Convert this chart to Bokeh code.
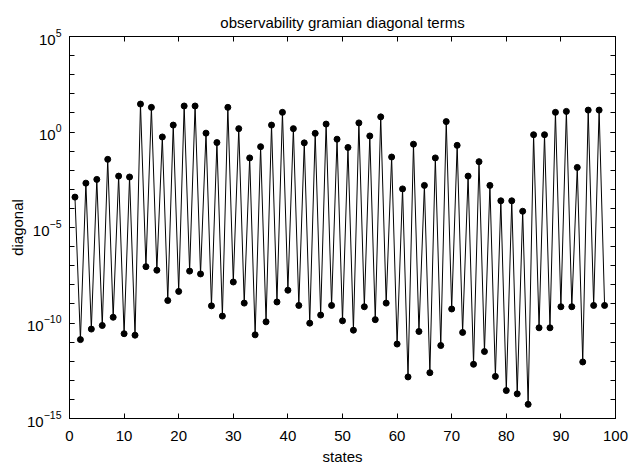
from bokeh.plotting import figure
from bokeh.models import FixedTicker, LinearAxis, LogAxis, Range1d, CustomJSTickFormatter
from bokeh.embed import file_html
from bokeh.resources import INLINE

title_text = "observability gramian diagonal terms"
x_label = "states"
y_label = "diagonal"

states = list(range(1, 99))
diagonal = [
    3.9e-4, 1.35e-11, 2.1e-3, 4.8e-11, 3.3e-3, 7.4e-11, 3.7e-2, 2.0e-10, 4.9e-3, 2.75e-11,
    4.4e-3, 2.3e-11, 29, 8.9e-8, 19.5, 5.8e-8, 0.55, 1.5e-9, 2.3, 4.5e-9,
    23, 5.2e-8, 23, 3.7e-8, 0.87, 7.9e-10, 0.28, 2.3e-10, 19.5, 1.4e-8,
    1.5, 1.1e-9, 4.4e-2, 2.4e-11, 0.17, 1.15e-10, 2.3, 1.26e-9, 10.7, 5.2e-9,
    1.5, 8.3e-10, 0.27, 9.8e-11, 0.85, 2.6e-10, 2.6, 8.3e-10, 0.42, 1.3e-10,
    0.155, 4.2e-11, 3.0, 7.1e-10, 0.62, 1.5e-10, 6.2, 1.1e-9, 4.9e-2, 7.9e-12,
    1.05e-3, 1.5e-13, 0.23, 3.6e-11, 1.6e-3, 2.5e-13, 4.4e-2, 6.6e-12, 3.5, 5.4e-10,
    0.2, 3.2e-11, 4.9e-3, 6.9e-13, 2.8e-2, 3.2e-12, 1.6e-3, 1.6e-13, 2.5e-4, 2.9e-14,
    2.5e-4, 1.95e-14, 7.1e-5, 5.5e-15, 0.72, 5.6e-11, 0.72, 5.6e-11, 10.7, 7.1e-10,
    12, 7.1e-10, 1.4e-2, 9.1e-13, 14, 8.3e-10, 14, 8.3e-10,
]

x_ticks = [0, 10, 20, 30, 40, 50, 60, 70, 80, 90, 100]
y_major = [1e-15, 1e-10, 1e-5, 1e0, 1e5]
y_minor = [10.0 ** k for k in range(-15, 6)]

FONT = "Liberation Sans"
FS = "15px"

p = figure(width=632, height=467, y_axis_type="log",
           x_range=Range1d(0, 100), y_range=Range1d(1e-15, 1e5),
           output_backend="svg", toolbar_location=None,
           min_border_left=69, min_border_right=17, min_border_top=36, min_border_bottom=44)

p.title.text = title_text
p.title.align = "center"
p.title.text_font = FONT
p.title.text_font_size = FS
p.title.text_font_style = "normal"
p.title.text_color = "black"
p.title.standoff = 11

p.xgrid.visible = False
p.ygrid.visible = False
p.outline_line_color = "black"
p.outline_line_width = 1
p.background_fill_color = "white"
p.border_fill_color = "white"

xt = FixedTicker(ticks=x_ticks, minor_ticks=[])
yt = FixedTicker(ticks=y_major, minor_ticks=y_minor)

def style(ax, labels=True):
    ax.major_tick_in = 5
    ax.major_tick_out = 0
    ax.minor_tick_in = 5
    ax.minor_tick_out = 0
    ax.axis_line_color = "black"
    ax.major_tick_line_color = "black"
    ax.minor_tick_line_color = "black"
    ax.major_label_text_font = FONT
    ax.major_label_text_color = "black"
    ax.major_label_text_font_size = FS
    ax.axis_label_text_font = FONT
    ax.axis_label_text_font_size = FS
    ax.axis_label_text_font_style = "normal"
    ax.axis_label_text_color = "black"
    if not labels:
        ax.formatter = CustomJSTickFormatter(code="return '';")
        ax.major_label_standoff = 0

xa = p.xaxis[0]
xa.ticker = xt
xa.axis_label = x_label
style(xa)
xa.major_label_standoff = 12
xa.axis_label_standoff = 4

ya = p.yaxis[0]
ya.ticker = yt
ya.axis_label = y_label
style(ya)
ya.major_label_standoff = 8
ya.axis_label_standoff = -2

top = LinearAxis(ticker=xt)
style(top, labels=False)
p.add_layout(top, "above")

right = LogAxis(ticker=yt)
style(right, labels=False)
p.add_layout(right, "right")

p.line(states, diagonal, line_color="black", line_width=1)
p.scatter(states, diagonal, size=6, fill_color="black", line_color="black")

open("out.html", "w").write(file_html(p, INLINE))
